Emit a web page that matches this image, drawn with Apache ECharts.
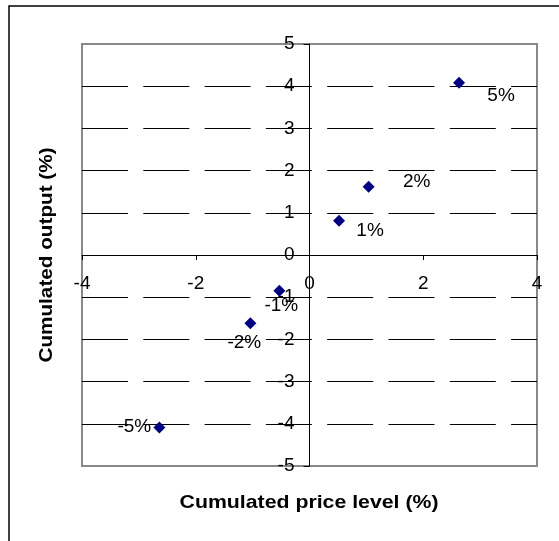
<!DOCTYPE html>
<html>
<head>
<meta charset="utf-8">
<script src="https://cdn.jsdelivr.net/npm/echarts@6/dist/echarts.min.js"></script>
<style>
  html, body { margin: 0; padding: 0; background: #fff; }
  #chart { width: 559px; height: 541px; }
</style>
</head>
<body>
<div id="chart"></div>
<script>
// Cumulated price level vs cumulated output for each shock size
const priceLevel = [2.63, 1.04, 0.52, -0.53, -1.04, -2.64];
const output = [4.08, 1.62, 0.81, -0.85, -1.62, -4.09];
const shockLabels = ['5%', '2%', '1%', '-1%', '-2%', '-5%'];

// Where each point's label sits relative to its marker (px)
const labelOffsets = [[42, 13], [48, -5], [31, 10], [2, 15], [-6, 19], [-25, -1]];

const FONT = '"Liberation Sans", Arial, sans-serif';

// Plot box in pixels; the axes cross at the origin inside it
const GRID = { left: 82, top: 44, width: 455, height: 422 };
const X_RANGE = [-4, 4];
const Y_RANGE = [-5, 5];
const originX = GRID.width * (0 - X_RANGE[0]) / (X_RANGE[1] - X_RANGE[0]);
const originY = GRID.height * (Y_RANGE[1] - 0) / (Y_RANGE[1] - Y_RANGE[0]);

const points = priceLevel.map((x, i) => ({
  value: [x, output[i]],
  label: { offset: labelOffsets[i], formatter: shockLabels[i] }
}));

const chart = echarts.init(document.getElementById('chart'), null, { renderer: 'canvas' });

chart.setOption({
  animation: false,
  backgroundColor: '#fff',
  grid: Object.assign({}, GRID, {
    show: true, borderColor: '#888', borderWidth: 2, backgroundColor: 'transparent'
  }),
  xAxis: {
    type: 'value', min: X_RANGE[0], max: X_RANGE[1], interval: 2,
    position: 'bottom', offset: -(GRID.height - originY),
    axisLine: { onZero: false, lineStyle: { color: '#000', width: 1 } },
    axisTick: { show: true, length: 5, lineStyle: { color: '#000' } },
    axisLabel: { margin: 19, color: '#000', fontSize: 19, fontFamily: FONT, showMinLabel: true, showMaxLabel: true },
    splitLine: { show: false }
  },
  yAxis: {
    type: 'value', min: Y_RANGE[0], max: Y_RANGE[1], interval: 1,
    position: 'left', offset: -originX,
    axisLine: { onZero: false, lineStyle: { color: '#000', width: 1 } },
    axisTick: { show: true, length: 6, lineStyle: { color: '#000' } },
    axisLabel: { margin: 15, color: '#000', fontSize: 19, fontFamily: FONT, showMinLabel: true, showMaxLabel: true },
    splitLine: {
      show: true, showMinLine: false, showMaxLine: false,
      lineStyle: { color: '#000', width: 1, type: [46, 15.3] }
    }
  },
  series: [{
    type: 'scatter',
    data: points,
    symbol: 'diamond',
    symbolSize: [12, 12],
    itemStyle: { color: '#000080', opacity: 1 },
    label: { show: true, position: 'inside', color: '#000', fontSize: 19, fontFamily: FONT }
  }],
  graphic: [
    {
      type: 'rect', silent: true, z: 100,
      shape: { x: 9, y: 6, width: 600, height: 600 },
      style: { fill: 'none', stroke: '#000', lineWidth: 1.5 }
    },
    {
      type: 'text', x: 309, y: 503, z: 100, scaleX: 1.12,
      style: { text: 'Cumulated price level (%)', font: 'bold 19px ' + FONT, fill: '#000', textAlign: 'center', textVerticalAlign: 'middle' }
    },
    {
      type: 'text', x: 47, y: 255, rotation: Math.PI / 2, z: 100, scaleX: 1.09,
      style: { text: 'Cumulated output (%)', font: 'bold 19px ' + FONT, fill: '#000', textAlign: 'center', textVerticalAlign: 'middle' }
    }
  ]
});
</script>
</body>
</html>
